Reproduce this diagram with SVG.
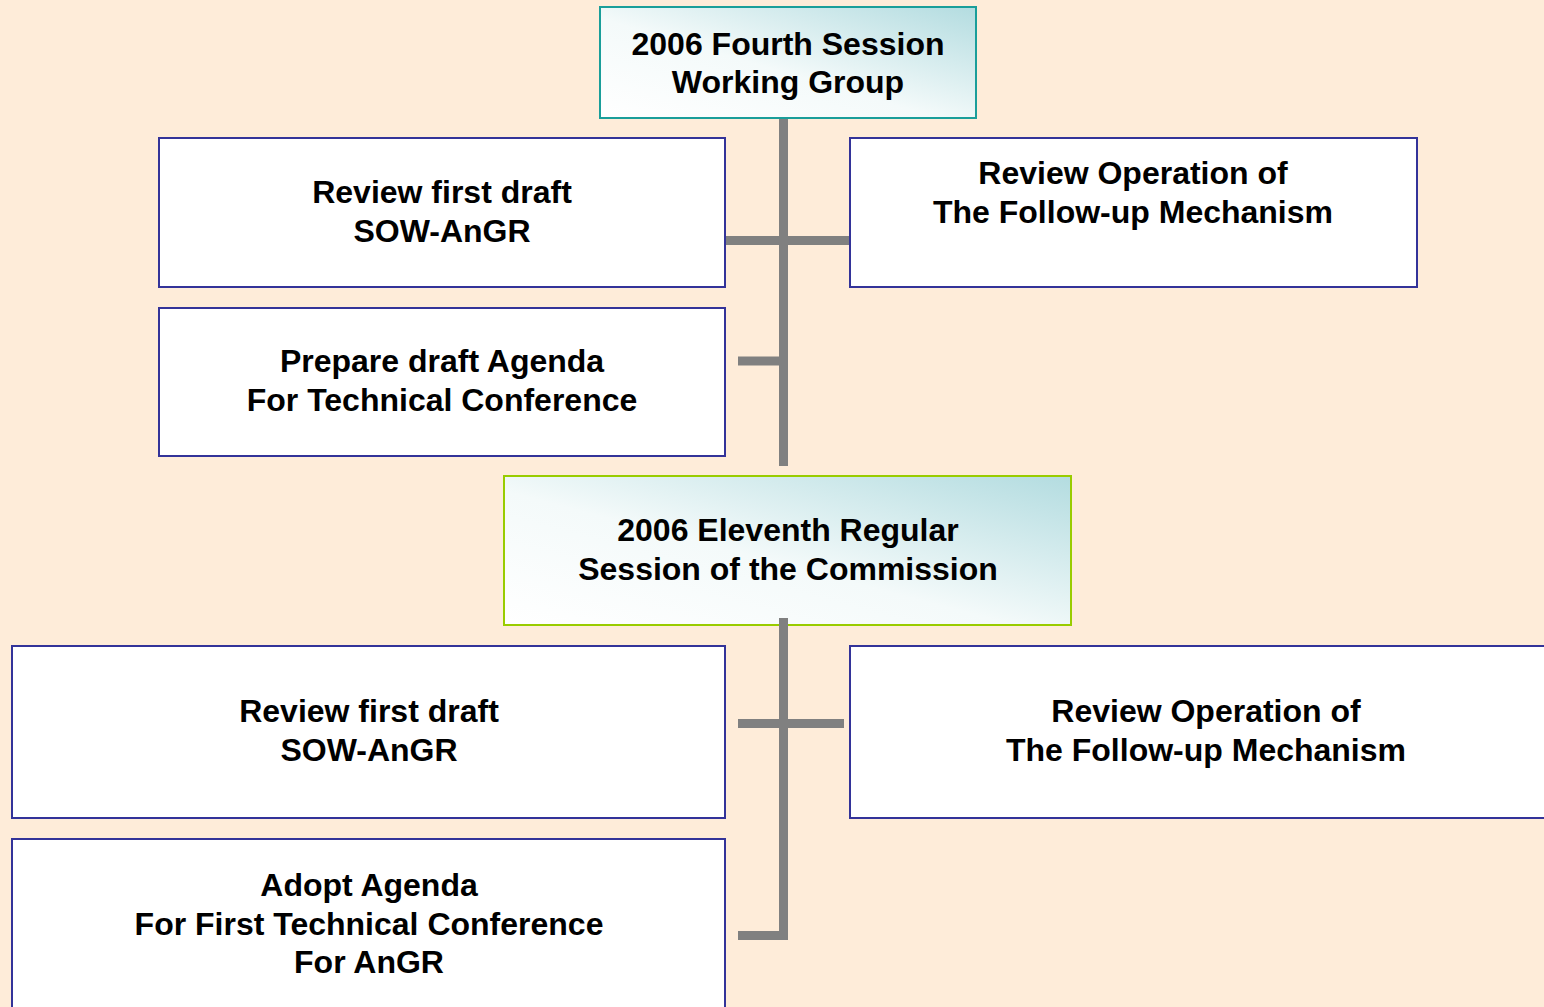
<svg xmlns="http://www.w3.org/2000/svg" width="1544" height="1007" viewBox="0 0 1544 1007">
<defs>
<linearGradient id="g" x1="0" y1="1" x2="1" y2="0">
<stop offset="0" stop-color="#ffffff"/>
<stop offset="0.45" stop-color="#f4fafa"/>
<stop offset="1" stop-color="#b3dce0"/>
</linearGradient>
<style>
.bx{fill:#fff;stroke:#333399;stroke-width:2}
.t{font-family:"Liberation Sans",Arial,sans-serif;font-weight:bold;font-size:32px;fill:#000;text-anchor:middle}
.c{stroke:#808080;stroke-width:9;fill:none}
</style>
</defs>
<rect width="1544" height="1007" fill="#feecd9"/>
<g id="n1">
<rect x="600" y="7" width="376" height="111" fill="url(#g)" stroke="#1a9e9a" stroke-width="2"/>
<text class="t" x="788" y="55">2006 Fourth Session</text>
<text class="t" x="788" y="93">Working Group</text>
</g>
<g id="n2">
<rect class="bx" x="159" y="138" width="566" height="149"/>
<text class="t" x="442" y="203">Review first draft</text>
<text class="t" x="442" y="242">SOW-AnGR</text>
</g>
<g id="n3">
<rect class="bx" x="850" y="138" width="567" height="149"/>
<text class="t" x="1133" y="184">Review Operation of</text>
<text class="t" x="1133" y="223">The Follow-up Mechanism</text>
</g>
<g id="n4">
<rect class="bx" x="159" y="308" width="566" height="148"/>
<text class="t" x="442" y="372">Prepare draft Agenda</text>
<text class="t" x="442" y="411">For Technical Conference</text>
</g>
<g id="n5">
<rect x="504" y="476" width="567" height="149" fill="url(#g)" stroke="#99cc00" stroke-width="2"/>
<text class="t" x="788" y="541">2006 Eleventh Regular</text>
<text class="t" x="788" y="580">Session of the Commission</text>
</g>
<g id="n6">
<rect class="bx" x="12" y="646" width="713" height="172"/>
<text class="t" x="369" y="722">Review first draft</text>
<text class="t" x="369" y="761">SOW-AnGR</text>
</g>
<g id="n7">
<rect class="bx" x="850" y="646" width="710" height="172"/>
<text class="t" x="1206" y="722">Review Operation of</text>
<text class="t" x="1206" y="761">The Follow-up Mechanism</text>
</g>
<g id="n8">
<rect class="bx" x="12" y="839" width="713" height="190"/>
<text class="t" x="369" y="896">Adopt Agenda</text>
<text class="t" x="369" y="935">For First Technical Conference</text>
<text class="t" x="369" y="973">For AnGR</text>
</g>
<g id="connectors">
<line class="c" x1="783.5" y1="119" x2="783.5" y2="466"/>
<line class="c" x1="726" y1="240.5" x2="849" y2="240.5"/>
<line class="c" x1="738" y1="361" x2="783.5" y2="361"/>
<line class="c" x1="783.5" y1="618" x2="783.5" y2="935"/>
<line class="c" x1="738" y1="723.5" x2="844" y2="723.5"/>
<polyline class="c" points="738,935.5 783.5,935.5 783.5,930"/>
</g>
</svg>
